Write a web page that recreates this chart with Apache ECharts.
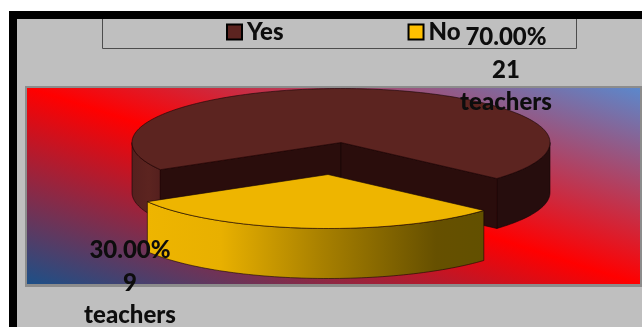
<!DOCTYPE html>
<html><head><meta charset="utf-8">
<style>html,body{margin:0;padding:0;background:#fff}#c{width:642px;height:327px}</style>
<script src="https://cdn.jsdelivr.net/npm/echarts@6/dist/echarts.min.js"></script>
</head><body><div id="c"></div>
<script>
const categories = ['Yes', 'No'];
const teachers = [21, 9];
const unitLabel = 'teachers';

const total = teachers.reduce((a, b) => a + b, 0);
const FONT = 'Lato, "Open Sans", sans-serif';
const CX = 341, CY = 142.5, RX = 209, RY = 54, DEPTH = 50;
const START_DEG = 149.8;
const EXPLODE = [[0, 0], [-13, 32]];
const LABEL_POS = [[506, 70], [130, 283]];
const rad = d => d * Math.PI / 180;

function rim(cx, cy, a0, a1, dy) {
  const pts = [], n = Math.max(2, Math.ceil(Math.abs(a1 - a0) / 1.5));
  for (let i = 0; i <= n; i++) {
    const t = rad(a0 + (a1 - a0) * i / n);
    pts.push([cx + RX * Math.cos(t), cy + dy + RY * Math.sin(t)]);
  }
  return pts;
}
function poly(points, fill, lw) {
  return { type: 'polygon', shape: { points }, style: { fill, stroke: '#140505', lineWidth: lw === undefined ? 0.6 : lw } };
}
function wall(cx, cy, a0, a1, fill) {
  const top = rim(cx, cy, a0, a1, 0), bot = rim(cx, cy, a0, a1, DEPTH).reverse();
  return poly(top.concat(bot), fill);
}
function cut(cx, cy, a, fill) {
  const t = rad(a), x = cx + RX * Math.cos(t), y = cy + RY * Math.sin(t);
  return poly([[cx, cy], [x, y], [x, y + DEPTH], [cx, cy + DEPTH]], fill);
}
function label(idx) {
  const v = teachers[idx];
  return {
    type: 'text', z2: 50,
    style: {
      x: LABEL_POS[idx][0], y: LABEL_POS[idx][1],
      text: (v / total * 100).toFixed(2) + '%\n' + v + '\n' + unitLabel,
      align: 'center', verticalAlign: 'middle', lineHeight: 32.5,
      font: '900 24px ' + FONT, fill: '#0d0d0d'
    }
  };
}
const yesLeftWall = { type: 'linear', x: 132, y: 0, x2: 160, y2: 0, global: true,
  colorStops: [{ offset: 0, color: '#55201e' }, { offset: 0.6, color: '#5c2420' }, { offset: 1, color: '#55201e' }] };
const noWall = { type: 'linear', x: 147, y: 0, x2: 483, y2: 0, global: true,
  colorStops: [{ offset: 0, color: '#eeb500' }, { offset: 0.22, color: '#e8b000' }, { offset: 0.52, color: '#a88000' },
    { offset: 0.86, color: '#665000' }, { offset: 1, color: '#625000' }] };

function renderYes() {
  const v = teachers[0], sweep = v / total * 360;
  const a0 = START_DEG, a1 = START_DEG + sweep;
  const [dx, dy] = EXPLODE[0], cx = CX + dx, cy = CY + dy;
  const children = [
    wall(cx, cy, a0, 180, yesLeftWall),
    wall(cx, cy, 360, a1, '#260d0d'),
    cut(cx, cy, a0, '#2a0d0c'),
    cut(cx, cy, a1, '#2a0d0c'),
    poly([[cx, cy]].concat(rim(cx, cy, a0, a1, 0)), '#5c2420'),
    label(0)
  ];
  return { type: 'group', children };
}
function renderNo() {
  const v = teachers[1], sweep = v / total * 360;
  const a1 = START_DEG, a0 = START_DEG - sweep;
  const [dx, dy] = EXPLODE[1], cx = CX + dx, cy = CY + dy;
  const children = [
    wall(cx, cy, a0, a1, noWall),
    poly([[cx, cy]].concat(rim(cx, cy, a0, a1, 0)), '#eeb500', 0.6),
    label(1)
  ];
  return { type: 'group', children };
}

const bgGradient = { type: 'linear', x: 276, y: 364.6, x2: 391, y2: 7.4, global: true,
  colorStops: [{ offset: 0, color: '#1c5088' }, { offset: 0.5, color: '#ff0000' }, { offset: 1, color: '#5b88cc' }] };

const chart = echarts.init(document.getElementById('c'), null, { renderer: 'canvas' });
chart.setOption({
  animation: false,
  backgroundColor: '#ffffff',
  graphic: { elements: [
    { type: 'rect', z: 0, shape: { x: 9, y: 11, width: 633, height: 316 }, style: { fill: '#000' } },
    { type: 'rect', z: 0, shape: { x: 17, y: 19, width: 625, height: 308 }, style: { fill: '#bfbfbf' } },
    { type: 'rect', z: 0, shape: { x: 25, y: 86, width: 617, height: 201 }, style: { fill: '#8c8c8c' } },
    { type: 'rect', z: 0, shape: { x: 27, y: 88, width: 613, height: 196 }, style: { fill: bgGradient } },
    { type: 'polyline', z: 0, shape: { points: [[102.5, 19], [102.5, 48.5], [576.5, 48.5], [576.5, 19]] },
      style: { stroke: '#4d4d4d', lineWidth: 1, fill: 'none' } }
  ] },
  legend: {
    left: 226, top: 20, orient: 'horizontal', selectedMode: false,
    icon: 'rect', itemWidth: 15, itemHeight: 15, itemGap: 124, padding: 0,
    textStyle: { fontFamily: FONT, fontWeight: 900, fontSize: 24, color: '#0d0d0d' },
    data: [
      { name: categories[0], itemStyle: { color: '#5c2420', borderColor: '#000', borderWidth: 2 } },
      { name: categories[1], itemStyle: { color: '#ffc000', borderColor: '#000', borderWidth: 2 } }
    ]
  },
  series: [
    { type: 'custom', name: categories[0], coordinateSystem: 'none', data: [teachers[0]], renderItem: renderYes, silent: true, z: 2,
      itemStyle: { color: '#5c2420' } },
    { type: 'custom', name: categories[1], coordinateSystem: 'none', data: [teachers[1]], renderItem: renderNo, silent: true, z: 3,
      itemStyle: { color: '#ffc000' } }
  ]
});
</script></body></html>
